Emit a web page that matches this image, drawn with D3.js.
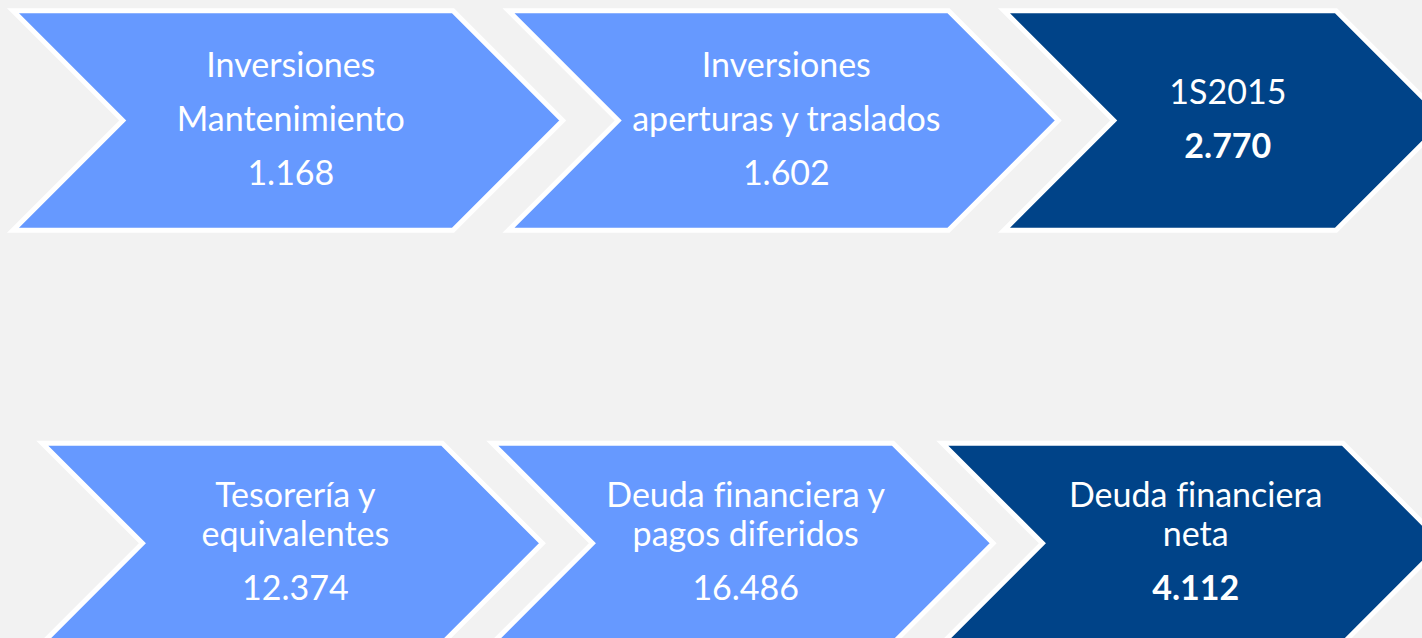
<!DOCTYPE html>
<html>
<head>
<meta charset="utf-8">
<script src="https://cdn.jsdelivr.net/npm/d3@7"></script>
<style>
  html, body { margin: 0; padding: 0; background: #f2f2f2; }
  svg { display: block; }
  text { font-variant-ligatures: none; }
</style>
</head>
<body>
<svg id="chart" width="1422" height="638"></svg>
<script>
// ---- data ----
const topLabels = [["Inversiones", "Mantenimiento"], ["Inversiones", "aperturas y traslados"], ["1S2015"]];
const topValues = [1168, 1602, 2770];
const topIsTotal = [false, false, true];

const bottomLabels = [["Tesorería y", "equivalentes"], ["Deuda financiera y", "pagos diferidos"], ["Deuda financiera", "neta"]];
const bottomValues = [12374, 16486, 4112];
const bottomIsTotal = [false, false, true];

// ---- style / layout ----
const W = 1422, H = 638;
const colors = { step: "#6699ff", total: "#004388", stroke: "#ffffff", bg: "#f2f2f2" };
const fontFamily = "Lato, 'Open Sans', sans-serif";
const fontSize = 34;

const esLocale = d3.formatLocale({ decimal: ",", thousands: ".", grouping: [3], currency: ["", "€"] });
const fmt = esLocale.format(",d");

const rows = [
  { labels: topLabels, values: topValues, total: topIsTotal,
    x: d3.scaleLinear().domain([0, 2]).range([13, 1004]),
    y: d3.scaleLinear().domain([0, 1]).range([10.8, 230.2]),
    topWidth: [440, 440, 332], labelGap: 54, valueGap: 54 },
  { labels: bottomLabels, values: bottomValues, total: bottomIsTotal,
    x: d3.scaleLinear().domain([0, 2]).range([42.3, 942.3]),
    y: d3.scaleLinear().domain([0, 1]).range([443.2, 643.4]),
    topWidth: [400, 400.7, 400.7], labelGap: 39, valueGap: 54 }
];

const svg = d3.select("#chart");
svg.append("rect").attr("width", W).attr("height", H).attr("fill", colors.bg);

rows.forEach(row => {
  const y0 = row.y(0), y1 = row.y(1), yc = row.y(0.5);
  const depth = (y1 - y0) / 2;
  const items = row.labels.map((lab, i) => ({ lab, val: row.values[i], total: row.total[i], i }));

  const g = svg.append("g").selectAll("g").data(items).join("g");

  g.append("path")
    .attr("d", d => {
      const x0 = row.x(d.i), x1 = x0 + row.topWidth[d.i];
      const p = d3.path();
      p.moveTo(x0, y0);
      p.lineTo(x1, y0);
      p.lineTo(x1 + depth, yc);
      p.lineTo(x1, y1);
      p.lineTo(x0, y1);
      p.lineTo(x0 + depth, yc);
      p.closePath();
      return p.toString();
    })
    .attr("fill", d => d.total ? colors.total : colors.step)
    .attr("stroke", colors.stroke)
    .attr("stroke-width", 5)
    .attr("stroke-linejoin", "miter")
    .attr("stroke-miterlimit", 10);

  g.each(function(d) {
    const x0 = row.x(d.i);
    const cx = x0 + (row.topWidth[d.i] + depth) / 2 + 3;
    const lines = d.lab.map(t => ({ t, bold: false }));
    lines.push({ t: fmt(d.val), bold: d.total });
    const gaps = lines.map((l, k) => k === 0 ? 0 : (k === lines.length - 1 ? row.valueGap : row.labelGap));
    const offs = []; let acc = 0;
    gaps.forEach(gp => { acc += gp; offs.push(acc); });
    const span = offs[offs.length - 1];
    const first = yc - span / 2 + 10;
    d3.select(this).selectAll("text").data(lines).join("text")
      .attr("x", cx)
      .attr("y", (l, k) => first + offs[k])
      .attr("text-anchor", "middle")
      .attr("fill", "#ffffff")
      .attr("font-family", fontFamily)
      .attr("font-size", fontSize)
      .attr("font-weight", l => l.bold ? 700 : 400)
      .text(l => l.t);
  });
});
</script>
</body>
</html>
